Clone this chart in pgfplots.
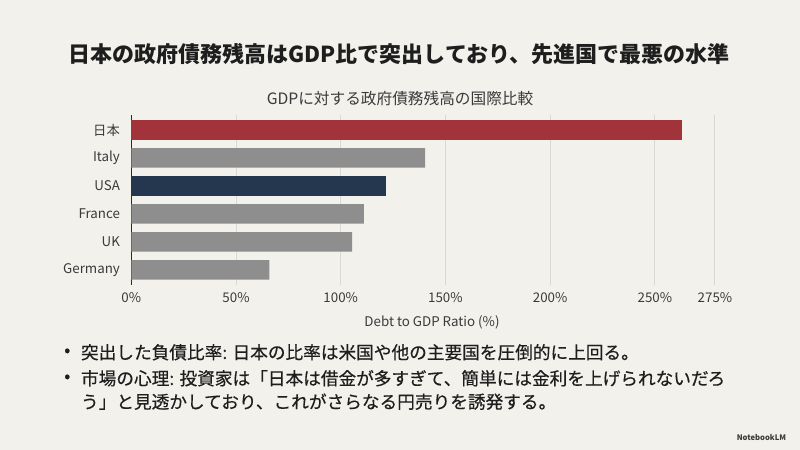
\documentclass[border=0pt]{standalone}
\usepackage{fontspec}
\setmainfont{Noto Sans CJK JP}
\newfontfamily\medfont[FakeBold=0.4]{Noto Sans CJK JP}
\usepackage{pgfplots}
\pgfplotsset{compat=1.18}
\definecolor{bg}{HTML}{F2F1EC}
\definecolor{jpred}{HTML}{A3333A}
\definecolor{usnavy}{HTML}{25364F}
\definecolor{bargray}{HTML}{8E8E8E}
\definecolor{gridc}{HTML}{D8D8D4}
\definecolor{axisc}{HTML}{2A2A2A}
\definecolor{tickc}{HTML}{3A3A3A}
\definecolor{textc}{HTML}{1E1E1E}
\newcommand{\PX}[2]{({#1*0.6pt},{(450-#2)*0.6pt})}
\begin{document}
\begin{tikzpicture}
\fill[bg] (0,0) rectangle (480pt,270pt);
% main title
\node[font=\fontsize{13.2}{14}\selectfont\bfseries, text=textc] at \PX{399}{54} {日本の政府債務残高はGDP比で突出しており、先進国で最悪の水準};
% chart title
\node[font=\fontsize{9.4}{11}\selectfont, text=tickc] at \PX{400}{99} {GDPに対する政府債務残高の国際比較};
\begin{axis}[
  at={(78.78pt,99pt)}, anchor=south west,
  scale only axis, width=350.2pt, height=102pt,
  xbar, bar width=11.7pt,
  xmin=0, xmax=278.7, ymin=-0.536, ymax=5.536,
  xtick={0,50,100,150,200,250,278.7},
  xticklabels={0\%,50\%,100\%,150\%,200\%,250\%,275\%},
  ytick={0,1,2,3,4,5},
  yticklabels={Germany,UK,France,USA,Italy,日本},
  xmajorgrids, grid style={gridc, line width=0.6pt},
  axis x line*=bottom, axis y line*=left,
  x axis line style={draw=none},
  y axis line style={draw=axisc, line width=0.9pt, -},
  major tick length=0pt,
  tick label style={font=\fontsize{8}{9}\selectfont, text=tickc},
  xticklabel style={yshift=-1pt},
  yticklabel style={xshift=-3.3pt},
  clip=false,
]
\addplot[fill=jpred, draw=none, bar shift=0pt] coordinates {(263.1,5)};
\addplot[fill=bargray, draw=none, bar shift=0pt] coordinates {(140.3,4) (111.0,2) (105.5,1) (65.9,0)};
\addplot[fill=usnavy, draw=none, bar shift=0pt] coordinates {(121.7,3)};
\end{axis}
% x label
\node[font=\fontsize{8}{9}\selectfont, text=tickc] at \PX{432}{322} {Debt to GDP Ratio (\%)};
% bullets
\begin{scope}[every node/.style={font=\fontsize{10.6}{12}\selectfont\medfont, text=textc, inner sep=0pt}]
\node at \PX{67.3}{352.3} {•};
\node[anchor=west] at \PX{80.7}{352.3} {突出した負債比率: 日本の比率は米国や他の主要国を圧倒的に上回る。};
\node at \PX{67.3}{378.3} {•};
\node[anchor=west] at \PX{80.7}{378.3} {市場の心理: 投資家は「日本は借金が多すぎて、簡単には金利を上げられないだろ};
\node[anchor=west] at \PX{80.7}{401.7} {う」と見透かしており、これがさらなる円売りを誘発する。};
\end{scope}
\node[font=\fontsize{4.6}{5}\selectfont\bfseries, text=tickc, anchor=east] at \PX{792}{437} {NotebookLM};
\end{tikzpicture}
\end{document}
